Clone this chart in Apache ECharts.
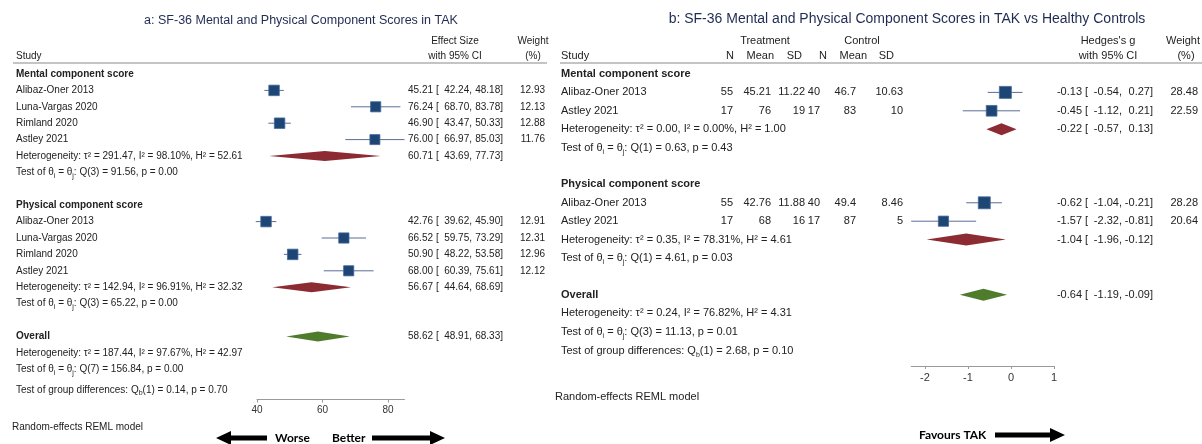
<!DOCTYPE html>
<html>
<head>
<meta charset="utf-8">
<script src="https://cdn.jsdelivr.net/npm/echarts@6/dist/echarts.min.js"></script>
<style>
  html, body { margin: 0; padding: 0; background: #fff; }
  #chart { width: 1202px; height: 444px; }
</style>
</head>
<body>
<div id="chart"></div>
<script>
// ---------- Panel a: pooled SF-36 scores in TAK ----------
const aStudies = ['Alibaz-Oner 2013', 'Luna-Vargas 2020', 'Rimland 2020', 'Astley 2021'];
const aMentalES = [45.21, 76.24, 46.90, 76.00];
const aMentalLo = [42.24, 68.70, 43.47, 66.97];
const aMentalHi = [48.18, 83.78, 50.33, 85.03];
const aMentalW  = [12.93, 12.13, 12.88, 11.76];
const aPhysES = [42.76, 66.52, 50.90, 68.00];
const aPhysLo = [39.62, 59.75, 48.22, 60.39];
const aPhysHi = [45.90, 73.29, 53.58, 75.61];
const aPhysW  = [12.91, 12.31, 12.96, 12.12];
// pooled estimates: mental, physical, overall
const aPoolES = [60.71, 56.67, 58.62];
const aPoolLo = [43.69, 44.64, 48.91];
const aPoolHi = [77.73, 68.69, 68.33];
const aTau2 = [291.47, 142.94, 187.44];
const aI2   = [98.10, 96.91, 97.67];
const aH2   = [52.61, 32.32, 42.97];
const aQdf  = [3, 3, 7];
const aQ    = [91.56, 65.22, 156.84];
const aQp   = [0.00, 0.00, 0.00];
const aGroupQb = 0.14, aGroupP = 0.70;
const aTicks = [40, 60, 80];

// ---------- Panel b: TAK vs healthy controls ----------
const bStudies = ['Alibaz-Oner 2013', 'Astley 2021'];
const bMentalN1 = [55, 17], bMentalMean1 = [45.21, 76], bMentalSD1 = [11.22, 19];
const bMentalN2 = [40, 17], bMentalMean2 = [46.7, 83],  bMentalSD2 = [10.63, 10];
const bMentalG  = [-0.13, -0.45];
const bMentalLo = [-0.54, -1.12];
const bMentalHi = [0.27, 0.21];
const bMentalW  = [28.48, 22.59];
const bPhysN1 = [55, 17], bPhysMean1 = [42.76, 68], bPhysSD1 = [11.88, 16];
const bPhysN2 = [40, 17], bPhysMean2 = [49.4, 87],  bPhysSD2 = [8.46, 5];
const bPhysG  = [-0.62, -1.57];
const bPhysLo = [-1.04, -2.32];
const bPhysHi = [-0.21, -0.81];
const bPhysW  = [28.28, 20.64];
const bPoolG  = [-0.22, -1.04, -0.64];
const bPoolLo = [-0.57, -1.96, -1.19];
const bPoolHi = [0.13, -0.12, -0.09];
const bTau2 = [0.00, 0.35, 0.24];
const bI2   = [0.00, 78.31, 76.82];
const bH2   = [1.00, 4.61, 4.31];
const bQdf  = [1, 1, 3];
const bQ    = [0.63, 4.61, 11.13];
const bQp   = [0.43, 0.03, 0.01];
const bGroupQb = 2.68, bGroupP = 0.10;
const bTicks = [-2, -1, 0, 1];

// ---------- styling ----------
const FONT = '"Liberation Sans", Arial, Helvetica, sans-serif';
const ARROW_FONT = 'Lato, "Open Sans", sans-serif';
const INK = '#222';
const TITLE_INK = '#1f2b52';
const SQUARE = '#1d4675', SQUARE_EDGE = '#45689a', CI_LINE = '#5a6d98';
const POOL_COLORS = ['#8c2b32', '#4f7b2c'];
const f2 = v => v.toFixed(2);

const hetText = (t, i, h) => `Heterogeneity: τ² = ${f2(t)}, I² = ${f2(i)}%, H² = ${f2(h)}`;
const testText = (df, q, p) => `Test of θ{s|i} = θ{s|j}: Q(${df}) = ${f2(q)}, p = ${f2(p)}`;
const groupText = (q, p) => `Test of group differences: Q{s|b}(1) = ${f2(q)}, p = ${f2(p)}`;

// ---------- panel a rows (y in row units) ----------
const aRows = [], aStudyPts = [], aPoolPts = [];
function esCellsA(es, lo, hi) {
  return [
    { x: 433, text: f2(es), align: 'right' },
    { x: 436, text: '[' },
    { x: 472, text: f2(lo) + ',', align: 'right' },
    { x: 503, text: f2(hi) + ']', align: 'right' }
  ];
}
function addGroupA(title, y0, es, lo, hi, w, k) {
  aRows.push({ y: y0, cells: [{ x: 16, text: title, bold: true }] });
  aStudies.forEach((s, i) => {
    const y = y0 + 1 + i;
    aRows.push({ y, cells: [{ x: 16, text: s }, ...esCellsA(es[i], lo[i], hi[i]), { x: 545, text: f2(w[i]), align: 'right' }] });
    aStudyPts.push([es[i], lo[i], hi[i], y, w[i]]);
  });
  const hy = y0 + 5;
  aRows.push({ y: hy, cells: [{ x: 16, text: hetText(aTau2[k], aI2[k], aH2[k]) }, ...esCellsA(aPoolES[k], aPoolLo[k], aPoolHi[k])] });
  aPoolPts.push([aPoolES[k], aPoolLo[k], aPoolHi[k], hy, 0]);
  aRows.push({ y: hy + 1, cells: [{ x: 16, text: testText(aQdf[k], aQ[k], aQp[k]) }] });
}
addGroupA('Mental component score', 0, aMentalES, aMentalLo, aMentalHi, aMentalW, 0);
addGroupA('Physical component score', 8, aPhysES, aPhysLo, aPhysHi, aPhysW, 1);
aRows.push({ y: 16, cells: [{ x: 16, text: 'Overall', bold: true }, ...esCellsA(aPoolES[2], aPoolLo[2], aPoolHi[2])] });
aPoolPts.push([aPoolES[2], aPoolLo[2], aPoolHi[2], 16, 1]);
aRows.push({ y: 17, cells: [{ x: 16, text: hetText(aTau2[2], aI2[2], aH2[2]) }] });
aRows.push({ y: 18, cells: [{ x: 16, text: testText(aQdf[2], aQ[2], aQp[2]) }] });
aRows.push({ y: 19.27, cells: [{ x: 16, text: groupText(aGroupQb, aGroupP) }] });

// ---------- panel b rows ----------
const bRows = [], bStudyPts = [], bPoolPts = [];
function esCellsB(g, lo, hi) {
  return [
    { x: 1082, text: f2(g), align: 'right' },
    { x: 1085, text: '[' },
    { x: 1122, text: f2(lo) + ',', align: 'right' },
    { x: 1153, text: f2(hi) + ']', align: 'right' }
  ];
}
function addGroupB(title, y0, n1, m1, s1, n2, m2, s2, g, lo, hi, w, k) {
  bRows.push({ y: y0, cells: [{ x: 561, text: title, bold: true }] });
  bStudies.forEach((s, i) => {
    const y = y0 + 1 + i;
    bRows.push({ y, cells: [
      { x: 561, text: s },
      { x: 733, text: String(n1[i]), align: 'right' },
      { x: 771, text: String(m1[i]), align: 'right' },
      { x: 805, text: String(s1[i]), align: 'right' },
      { x: 820, text: String(n2[i]), align: 'right' },
      { x: 856, text: String(m2[i]), align: 'right' },
      { x: 903, text: String(s2[i]), align: 'right' },
      ...esCellsB(g[i], lo[i], hi[i]),
      { x: 1198, text: f2(w[i]), align: 'right' }
    ] });
    bStudyPts.push([g[i], lo[i], hi[i], y, w[i]]);
  });
  const hy = y0 + 3;
  bRows.push({ y: hy, cells: [{ x: 561, text: hetText(bTau2[k], bI2[k], bH2[k]) }, ...esCellsB(bPoolG[k], bPoolLo[k], bPoolHi[k])] });
  bPoolPts.push([bPoolG[k], bPoolLo[k], bPoolHi[k], hy, 0]);
  bRows.push({ y: hy + 1, cells: [{ x: 561, text: testText(bQdf[k], bQ[k], bQp[k]) }] });
}
addGroupB('Mental component score', 0, bMentalN1, bMentalMean1, bMentalSD1, bMentalN2, bMentalMean2, bMentalSD2,
          bMentalG, bMentalLo, bMentalHi, bMentalW, 0);
addGroupB('Physical component score', 6, bPhysN1, bPhysMean1, bPhysSD1, bPhysN2, bPhysMean2, bPhysSD2,
          bPhysG, bPhysLo, bPhysHi, bPhysW, 1);
bRows.push({ y: 12, cells: [{ x: 561, text: 'Overall', bold: true }, ...esCellsB(bPoolG[2], bPoolLo[2], bPoolHi[2])] });
bPoolPts.push([bPoolG[2], bPoolLo[2], bPoolHi[2], 12, 1]);
bRows.push({ y: 13, cells: [{ x: 561, text: hetText(bTau2[2], bI2[2], bH2[2]) }] });
bRows.push({ y: 14, cells: [{ x: 561, text: testText(bQdf[2], bQ[2], bQp[2]) }] });
bRows.push({ y: 15.05, cells: [{ x: 561, text: groupText(bGroupQb, bGroupP) }] });

// ---------- renderers ----------
function studyItem(sizeK) {
  return function (params, api) {
    const row = api.value(3);
    const pL = api.coord([api.value(1), row]);
    const pH = api.coord([api.value(2), row]);
    const pE = api.coord([api.value(0), row]);
    const s = sizeK * Math.sqrt(api.value(4));
    return { type: 'group', children: [
      { type: 'line', shape: { x1: pL[0], y1: pL[1], x2: pH[0], y2: pH[1] }, style: { stroke: CI_LINE, lineWidth: 1 } },
      { type: 'rect', shape: { x: pE[0] - s / 2, y: pE[1] - s / 2, width: s, height: s },
        style: { fill: SQUARE, stroke: SQUARE_EDGE, lineWidth: 0.8 } }
    ] };
  };
}
function poolItem(h) {
  return function (params, api) {
    const row = api.value(3);
    const pL = api.coord([api.value(1), row]);
    const pH = api.coord([api.value(2), row]);
    const pE = api.coord([api.value(0), row]);
    const y = pE[1];
    return { type: 'polygon', shape: { points: [[pL[0], y], [pE[0], y - h], [pH[0], y], [pE[0], y + h]] },
             style: { fill: POOL_COLORS[api.value(4)] } };
  };
}
function textItem(rows, size) {
  const rich = { s: { fontSize: Math.round(size * 0.68), fontFamily: FONT, fill: INK, verticalAlign: 'bottom', lineHeight: size * 0.7 } };
  return function (params, api) {
    const y = api.coord([api.value(0), api.value(1)])[1];
    return { type: 'group', children: rows[params.dataIndex].cells.map(c => ({
      type: 'text', x: c.x, y: y,
      style: { text: c.text, align: c.align || 'left', verticalAlign: 'middle', fill: INK,
               fontSize: size, fontFamily: FONT, fontWeight: c.bold ? 'bold' : 'normal',
               lineHeight: size * 1.4, rich: rich }
    })) };
  };
}

// ---------- header / decoration ----------
function txt(x, y, text, o = {}) {
  return { type: 'text', x, y, silent: true, style: Object.assign({
    text, fill: INK, fontSize: 10, fontFamily: FONT, align: 'left', verticalAlign: 'middle' }, o) };
}
function arrow(x0, x1, y, dir) {
  // dir = 1 points right, -1 points left; head length 15, half-height 7, shaft half-thickness 2.5
  const tip = dir > 0 ? x1 : x0, tail = dir > 0 ? x0 : x1, base = tip - dir * 15;
  return { type: 'polygon', silent: true, shape: { points: [
    [tail, y - 2.5], [base, y - 2.5], [base, y - 7], [tip, y], [base, y + 7], [base, y + 2.5], [tail, y + 2.5]] },
    style: { fill: '#000' } };
}

const graphics = [
  txt(301, 21, 'a: SF-36 Mental and Physical Component Scores in TAK', { fontSize: 12.5, fill: TITLE_INK, align: 'center' }),
  txt(455, 41, 'Effect Size', { align: 'center' }),
  txt(455, 56, 'with 95% CI', { align: 'center' }),
  txt(533, 41, 'Weight', { align: 'center' }),
  txt(533, 56, '(%)', { align: 'center' }),
  txt(16, 56, 'Study'),
  { type: 'line', silent: true, shape: { x1: 13, y1: 63, x2: 547, y2: 63 }, style: { stroke: '#8a8a8a', lineWidth: 1.2 } },
  txt(12, 427, 'Random-effects REML model'),
  arrow(216, 267, 438, -1),
  txt(275, 438, 'Worse', { fontFamily: ARROW_FONT, fontWeight: 'bold', fontSize: 12, fill: '#000' }),
  txt(332, 438, 'Better', { fontFamily: ARROW_FONT, fontWeight: 'bold', fontSize: 12, fill: '#000' }),
  arrow(372, 445, 438, 1),

  txt(907, 19, 'b: SF-36 Mental and Physical Component Scores in TAK vs Healthy Controls', { fontSize: 14, fill: TITLE_INK, align: 'center' }),
  txt(765, 41, 'Treatment', { fontSize: 11, align: 'center' }),
  txt(862, 41, 'Control', { fontSize: 11, align: 'center' }),
  txt(561, 56, 'Study', { fontSize: 11 }),
  txt(734, 56, 'N', { fontSize: 11, align: 'right' }),
  txt(774, 56, 'Mean', { fontSize: 11, align: 'right' }),
  txt(802, 56, 'SD', { fontSize: 11, align: 'right' }),
  txt(827, 56, 'N', { fontSize: 11, align: 'right' }),
  txt(867, 56, 'Mean', { fontSize: 11, align: 'right' }),
  txt(894, 56, 'SD', { fontSize: 11, align: 'right' }),
  txt(1108, 41, "Hedges's g", { fontSize: 11, align: 'center' }),
  txt(1108, 56, 'with 95% CI', { fontSize: 11, align: 'center' }),
  txt(1200, 41, 'Weight', { fontSize: 11, align: 'right' }),
  txt(1186, 56, '(%)', { fontSize: 11, align: 'center' }),
  { type: 'line', silent: true, shape: { x1: 560, y1: 63, x2: 1202, y2: 63 }, style: { stroke: '#8a8a8a', lineWidth: 1.2 } },
  txt(555, 397, 'Random-effects REML model', { fontSize: 11 }),
  txt(919, 435, 'Favours TAK', { fontFamily: ARROW_FONT, fontWeight: 'bold', fontSize: 12, fill: '#000' }),
  arrow(995, 1065, 435, 1)
];

// ---------- chart ----------
const A_MIN = 40, A_MAX = 85.03, B_MIN = -2.32, B_MAX = 1;
const axisCommon = (ticks, size) => ({
  type: 'value',
  position: 'bottom',
  axisLine: { show: true, onZero: false, lineStyle: { color: '#9a9a9a', width: 1 } },
  axisTick: { show: true, length: 3, customValues: ticks, lineStyle: { color: '#9a9a9a' } },
  axisLabel: { customValues: ticks, fontSize: size, color: '#333', fontFamily: FONT, margin: 6 },
  splitLine: { show: false }
});

const chart = echarts.init(document.getElementById('chart'), null, { renderer: 'canvas' });
chart.setOption({
  animation: false,
  backgroundColor: '#fff',
  grid: [
    { left: 257, width: 147.47, top: 57.6, height: 341.94 },
    { left: 911.2, width: 142.76, top: 55.6, height: 310.4 }
  ],
  xAxis: [
    Object.assign({ gridIndex: 0, min: A_MIN, max: A_MAX }, axisCommon(aTicks, 10)),
    Object.assign({ gridIndex: 1, min: B_MIN, max: B_MAX }, axisCommon(bTicks, 11))
  ],
  yAxis: [
    { gridIndex: 0, type: 'value', inverse: true, min: -1, max: 19.85, show: false },
    { gridIndex: 1, type: 'value', inverse: true, min: -1, max: 15.87, show: false }
  ],
  series: [
    { type: 'custom', xAxisIndex: 0, yAxisIndex: 0, silent: true, clip: false,
      encode: { x: [0, 1, 2], y: 3 }, data: aStudyPts, renderItem: studyItem(2.92) },
    { type: 'custom', xAxisIndex: 0, yAxisIndex: 0, silent: true, clip: false,
      encode: { x: [0, 1, 2], y: 3 }, data: aPoolPts, renderItem: poolItem(5) },
    { type: 'custom', xAxisIndex: 0, yAxisIndex: 0, silent: true, clip: false,
      encode: { x: 0, y: 1 }, data: aRows.map(r => [A_MIN, r.y]), renderItem: textItem(aRows, 10) },
    { type: 'custom', xAxisIndex: 1, yAxisIndex: 1, silent: true, clip: false,
      encode: { x: [0, 1, 2], y: 3 }, data: bStudyPts, renderItem: studyItem(2.25) },
    { type: 'custom', xAxisIndex: 1, yAxisIndex: 1, silent: true, clip: false,
      encode: { x: [0, 1, 2], y: 3 }, data: bPoolPts, renderItem: poolItem(6) },
    { type: 'custom', xAxisIndex: 1, yAxisIndex: 1, silent: true, clip: false,
      encode: { x: 0, y: 1 }, data: bRows.map(r => [B_MIN, r.y]), renderItem: textItem(bRows, 11) }
  ],
  graphic: graphics
});
</script>
</body>
</html>
